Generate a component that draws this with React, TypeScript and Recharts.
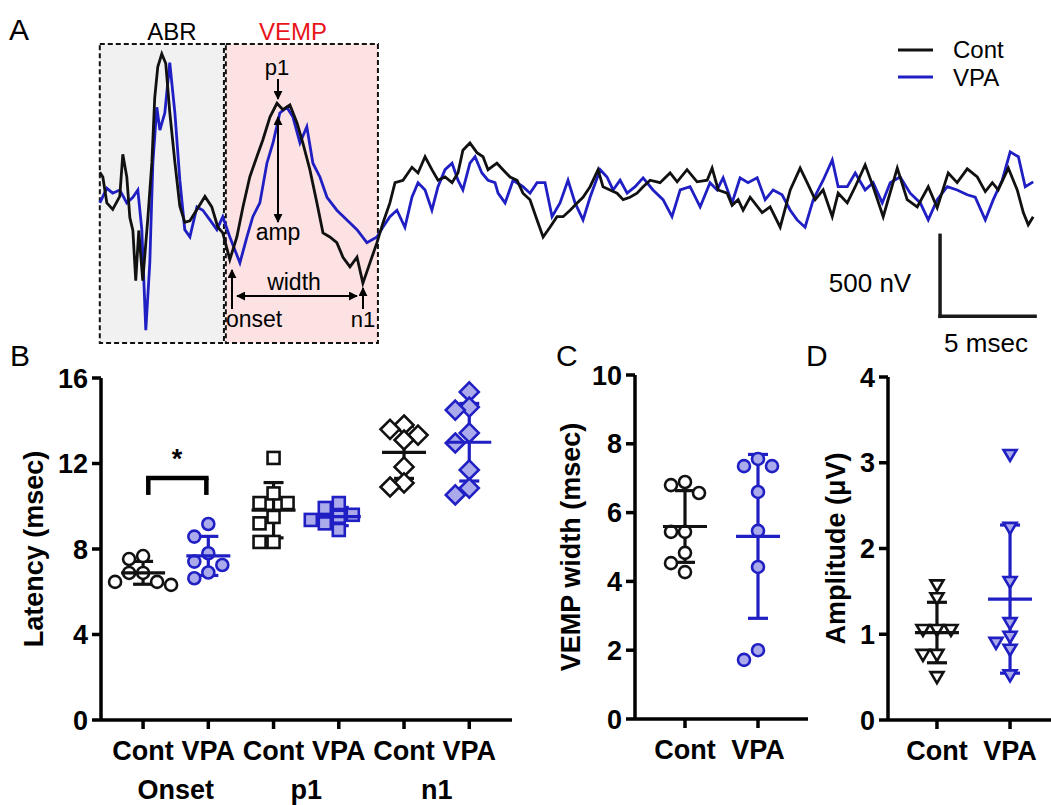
import React from "react";
import {
  LineChart,
  Line,
  XAxis,
  YAxis,
  ReferenceArea,
  ReferenceLine,
  ScatterChart,
  Scatter,
  ErrorBar,
} from "recharts";

const FONT = '"Liberation Sans", Arial, Helvetica, sans-serif';
const BLACK = "#111111";
const BLUE = "#1f1fc4";
const BLUE_FILL = "#ababec";

// ---- A: averaged traces, [time (msec), voltage (nV)]
const CONT_TRACE: [number, number][] = [
  [0, 110], [0.16, 80], [0.37, -80], [0.68, -120], [1.05, -40], [1.21, 220], [1.42, 80], [1.58, -170],
  [1.74, -250], [1.89, -560], [2.05, -250], [2.26, -560], [2.53, -170], [2.74, 170], [2.89, 570], [3.05, 760],
  [3.26, 840], [3.47, 780], [3.68, 480], [3.95, 170], [4.21, -100], [4.47, -200], [4.74, -190], [5.11, -120],
  [5.53, -40], [5.89, -105], [6.21, -230], [6.47, -265], [6.84, -430], [7.21, -290], [7.53, -105], [7.89, 80],
  [8.26, 205], [8.58, 310], [8.95, 450], [9.32, 535], [9.63, 495], [10.0, 525], [10.37, 415], [10.68, 290],
  [11.05, 125], [11.42, -80], [11.74, -265], [12.1, -290], [12.47, -325], [12.79, -415], [13.16, -475], [13.53, -415],
  [13.84, -575], [14.21, -450], [14.58, -325], [14.89, -205], [15.26, -80], [15.53, 45], [15.95, 60], [16.42, 140],
  [16.74, 105], [17.11, 205], [17.47, 125], [17.79, 60], [18.16, 80], [18.53, 45], [18.84, 105], [19.1, 245],
  [19.47, 290], [19.84, 230], [20.16, 205], [20.42, 125], [20.89, 165], [21.21, 125], [21.58, 80], [21.95, 60],
  [22.26, -20], [22.63, -60], [23.0, -185], [23.32, -290], [23.68, -230], [24.05, -165], [24.37, -165], [24.74, -125],
  [25.11, -80], [25.42, -45], [25.79, 20], [26.21, 125], [26.47, 20], [26.84, 0], [27.21, -20], [27.53, -60],
  [27.89, -45], [28.26, -20], [28.58, 20], [28.95, 60], [29.47, 45], [30.0, 105], [30.37, 50], [30.89, 125],
  [31.42, 50], [31.95, 60], [32.21, 135], [32.53, 0], [33.0, -20], [33.26, -95], [33.58, -60], [33.84, -125],
  [34.21, -45], [34.84, -140], [35.26, -105], [35.79, -230], [36.32, 0], [36.84, 135], [37.21, 45], [37.63, -60],
  [38.05, 0], [38.53, -165], [38.84, -20], [39.32, -80], [39.74, 20], [40.26, 155], [40.68, 20], [41.21, -165],
  [41.95, 135], [42.47, -60], [43.0, -105], [43.58, 20], [44.05, -110], [44.63, 105], [45.1, 45], [45.63, 130],
  [46.16, 80], [46.58, -10], [46.95, 45], [47.26, 0], [47.79, 135], [48.26, 0], [48.58, -140], [48.84, -215],
  [49.1, -165],
];

const VPA_TRACE: [number, number][] = [
  [0, -80], [0.37, 10], [0.68, -20], [1.05, 0], [1.42, -80], [1.74, -45], [2.0, 0], [2.21, -245],
  [2.42, -865], [2.63, -450], [2.79, 165], [3.0, 510], [3.16, 370], [3.42, 475], [3.68, 785], [3.95, 475],
  [4.21, 60], [4.47, -245], [4.74, -290], [5.11, -105], [5.42, -125], [5.79, -185], [6.16, -245], [6.47, -165],
  [6.84, -290], [7.37, -450], [7.74, -290], [8.05, -165], [8.42, -80], [8.79, 165], [9.11, 290], [9.47, 475],
  [9.84, 510], [10.16, 450], [10.53, 290], [10.89, 390], [11.21, 165], [11.58, 80], [11.95, -45], [12.47, -125],
  [13.0, -185], [13.53, -245], [14.05, -325], [14.58, -290], [14.89, -230], [15.26, -165], [15.63, -125], [16.05, -230],
  [16.42, -45], [16.74, 45], [17.11, 0], [17.47, -125], [17.79, 20], [18.16, 125], [18.53, 165], [18.84, 60],
  [19.1, 0], [19.47, 165], [19.74, 205], [20.1, 105], [20.42, 60], [20.79, 45], [20.95, -20], [21.32, -80],
  [21.74, 60], [22.26, 20], [22.63, -20], [23.0, 45], [23.42, 45], [23.79, -165], [24.21, -80], [24.63, 60],
  [25.0, -80], [25.42, -185], [25.79, -45], [26.32, 125], [26.68, 80], [27.0, 0], [27.37, 60], [27.74, -20],
  [28.16, 20], [28.58, 75], [29.1, 0], [29.63, -60], [30.1, -165], [30.53, 0], [31.05, 20], [31.58, -105],
  [32.1, 45], [32.47, 0], [32.79, 75], [33.26, -80], [33.68, 75], [34.1, 45], [34.58, 75], [35.0, -60],
  [35.42, 0], [35.89, -30], [36.32, -125], [36.68, -185], [37.1, -230], [37.53, -60], [38.05, 60], [38.53, 185],
  [38.84, 20], [39.32, 20], [39.74, 105], [40.26, 0], [40.68, 45], [41.16, -80], [41.58, 45], [42.1, 80],
  [42.63, -20], [43.16, -80], [43.58, -185], [44.05, -60], [44.58, 20], [45.1, 0], [45.63, -30], [46.05, -45],
  [46.58, -185], [47.0, -60], [47.47, 60], [47.89, 235], [48.32, 205], [48.68, 20], [49.1, 50],
];

// analysis windows (msec) and scale bar (5 msec / 500 nV)
const ABR_WINDOW: [number, number] = [0, 6.53];
const VEMP_WINDOW: [number, number] = [6.63, 14.63];
const WINDOW_RANGE: [number, number] = [-945, 900];
const SCALE_ORIGIN = { t: 44.2, v: -280 };
const SCALE_MS = 5;
const SCALE_NV = 500;

// ---- B: latencies (msec)
const ONSET_CONT = [7.67, 7.53, 6.88, 6.88, 6.46, 6.32, 6.46];
const ONSET_VPA = [9.17, 8.58, 7.8, 7.41, 7.25, 6.9, 6.63];
const P1_CONT = [12.26, 10.6, 10.15, 10.15, 9.5, 9.2, 8.33, 8.33];
const P1_VPA = [10.15, 9.92, 9.6, 9.51, 9.36, 9.2, 8.89];
const N1_CONT = [13.8, 13.6, 13.33, 13.1, 11.84, 11.09, 10.9];
const N1_VPA = [15.35, 14.64, 14.5, 13.43, 12.96, 11.7, 10.85, 10.53];
const B_TICKS = ["Cont", "VPA", "Cont", "VPA", "Cont", "VPA"];
const B_GROUPS = ["Onset", "p1", "n1"];

// ---- C: VEMP width (msec)
const WIDTH_CONT = [6.89, 6.8, 6.57, 5.44, 5.44, 4.83, 4.53, 4.27];
const WIDTH_VPA = [7.56, 7.35, 7.35, 6.6, 5.47, 4.42, 2.0, 1.72];

// ---- D: amplitude (uV)
const AMP_CONT = [1.57, 1.42, 1.05, 1.05, 1.05, 0.76, 0.76, 0.5];
const AMP_VPA = [3.09, 2.24, 1.61, 1.13, 0.97, 0.9, 0.82, 0.52];
const CD_TICKS = ["Cont", "VPA"];

type Kind = "circle" | "square" | "diamond" | "triangle";
type Group = { values: number[]; pos: number; kind: Kind; vpa: boolean };

const mean = (a: number[]) => a.reduce((s, v) => s + v, 0) / a.length;
const sd = (a: number[]) => {
  const m = mean(a);
  return Math.sqrt(a.reduce((s, v) => s + (v - m) ** 2, 0) / (a.length - 1));
};

// simple beeswarm: spread points sideways so markers don't pile up
function swarm(values: number[], pxX: number, pxY: number, diam: number, step: number) {
  const placed: { x: number; y: number }[] = [];
  const offsets = new Array(values.length).fill(0);
  const order = values.map((_, i) => i).sort((a, b) => values[b] - values[a]);
  for (const i of order) {
    const py = values[i] * pxY;
    for (let k = 0; k < 30; k++) {
      const cand = k === 0 ? 0 : (k % 2 ? -1 : 1) * Math.ceil(k / 2) * step;
      if (placed.every((p) => Math.hypot(p.x - cand, p.y - py) >= diam)) {
        placed.push({ x: cand, y: py });
        offsets[i] = cand / pxX;
        break;
      }
    }
  }
  return offsets;
}

function Marker({ cx, cy, kind, vpa }: { cx: number; cy: number; kind: Kind; vpa: boolean }) {
  const p = { stroke: vpa ? BLUE : BLACK, fill: vpa ? BLUE_FILL : "#fff", strokeWidth: 2.6 };
  if (kind === "circle") return <circle cx={cx} cy={cy} r={6} {...p} />;
  if (kind === "square") return <rect x={cx - 6} y={cy - 6} width={12} height={12} {...p} />;
  if (kind === "diamond")
    return <polygon points={`${cx},${cy - 9.5} ${cx + 9.5},${cy} ${cx},${cy + 9.5} ${cx - 9.5},${cy}`} {...p} />;
  return <polygon points={`${cx - 6.5},${cy - 5} ${cx + 6.5},${cy - 5} ${cx},${cy + 6}`} {...p} />;
}

const tickFont = { fontFamily: FONT, fontSize: 27, fontWeight: 700, fill: "#000" };
const axisStroke = { stroke: "#000", strokeWidth: 3.5 };

type PanelProps = {
  left: number;
  top: number;
  width: number;
  height: number;
  margin: { top: number; right: number; bottom: number; left: number };
  yAxisWidth: number;
  groupAxisHeight?: number;
  xDomain: [number, number];
  yDomain: [number, number];
  yTicks: number[];
  tickLabels: string[];
  groupLabels?: string[];
  groups: Group[];
  yLabel: string;
  yLabelOffset: number;
  diam: number;
  extra?: React.ReactNode;
};

function DotPanel(props: PanelProps) {
  const { margin, yAxisWidth, xDomain, yDomain, groups } = props;
  const xAxisHeight = 40;
  const plotW = props.width - margin.left - margin.right - yAxisWidth;
  const plotH = props.height - margin.top - margin.bottom - xAxisHeight - (props.groupAxisHeight ?? 0);
  const pxX = plotW / (xDomain[1] - xDomain[0]);
  const pxY = plotH / (yDomain[1] - yDomain[0]);

  return (
    <div style={{ position: "absolute", left: props.left, top: props.top }}>
      <ScatterChart width={props.width} height={props.height} margin={margin}>
        <XAxis
          type="number"
          dataKey="x"
          domain={xDomain}
          ticks={groups.map((g) => g.pos)}
          tickFormatter={(v: number) => props.tickLabels[Math.round(v)]}
          axisLine={axisStroke}
          tickLine={axisStroke}
          tickSize={9}
          tickMargin={12}
          height={xAxisHeight}
          tick={tickFont}
          interval={0}
          allowDataOverflow
        />
        {props.groupLabels && (
          <XAxis
            xAxisId="grp"
            type="number"
            dataKey="x"
            domain={xDomain}
            ticks={props.groupLabels.map((_, i) => 2 * i + 0.5)}
            tickFormatter={(v: number) => props.groupLabels![Math.round((v - 0.5) / 2)]}
            axisLine={false}
            tickLine={false}
            tickSize={0}
            tickMargin={20}
            height={props.groupAxisHeight}
            tick={tickFont}
            interval={0}
            allowDataOverflow
          />
        )}
        <YAxis
          type="number"
          dataKey="y"
          domain={yDomain}
          ticks={props.yTicks}
          width={yAxisWidth}
          axisLine={axisStroke}
          tickLine={axisStroke}
          tickSize={9}
          tickMargin={4}
          tick={tickFont}
          interval={0}
          allowDataOverflow
          label={{
            value: props.yLabel,
            angle: -90,
            position: "insideLeft",
            offset: props.yLabelOffset,
            style: { textAnchor: "middle", fontFamily: FONT, fontSize: 27, fontWeight: 700, fill: "#000" },
          }}
        />
        {props.extra}
        {groups.map((g, gi) => {
          const offs = swarm(g.values, pxX, pxY, props.diam, 14);
          const data = g.values.map((v, i) => ({ x: g.pos + offs[i], y: v }));
          return (
            <Scatter
              key={`pts-${gi}`}
              data={data}
              isAnimationActive={false}
              shape={(p: any) => <Marker cx={p.cx} cy={p.cy} kind={g.kind} vpa={g.vpa} />}
            />
          );
        })}
        {groups.map((g, gi) => {
          const color = g.vpa ? BLUE : BLACK;
          return (
            <Scatter
              key={`mean-${gi}`}
              data={[{ x: g.pos, y: mean(g.values), sd: sd(g.values) }]}
              isAnimationActive={false}
              shape={(p: any) => (
                <line x1={p.cx - 22} x2={p.cx + 22} y1={p.cy} y2={p.cy} stroke={color} strokeWidth={3.2} />
              )}
            >
              <ErrorBar dataKey="sd" direction="y" width={10} stroke={color} strokeWidth={3.2} />
            </Scatter>
          );
        })}
      </ScatterChart>
    </div>
  );
}

function TracePanel() {
  const cont = CONT_TRACE.map(([t, v]) => ({ t, v }));
  const vpa = VPA_TRACE.map(([t, v]) => ({ t, v }));
  const bar = "#1a1a1a";
  return (
    <div style={{ position: "absolute", left: 0, top: 0 }}>
      <LineChart width={1051} height={360} margin={{ top: 36, right: 14, bottom: 8, left: 96 }}>
        <XAxis type="number" dataKey="t" domain={[-0.2, 49.3]} hide allowDataOverflow />
        <YAxis type="number" dataKey="v" domain={[-1000, 950]} hide allowDataOverflow />
        <ReferenceArea
          x1={ABR_WINDOW[0]}
          x2={ABR_WINDOW[1]}
          y1={WINDOW_RANGE[0]}
          y2={WINDOW_RANGE[1]}
          fill="#f1f1f1"
          fillOpacity={1}
          stroke="#111"
          strokeWidth={2}
          strokeDasharray="5 3"
        />
        <ReferenceArea
          x1={VEMP_WINDOW[0]}
          x2={VEMP_WINDOW[1]}
          y1={WINDOW_RANGE[0]}
          y2={WINDOW_RANGE[1]}
          fill="#fce2e2"
          fillOpacity={1}
          stroke="#111"
          strokeWidth={2}
          strokeDasharray="5 3"
        />
        <Line data={vpa} dataKey="v" type="linear" stroke={BLUE} strokeWidth={2.8} dot={false} isAnimationActive={false} />
        <Line data={cont} dataKey="v" type="linear" stroke={BLACK} strokeWidth={2.8} dot={false} isAnimationActive={false} />
        <ReferenceLine
          segment={[
            { x: SCALE_ORIGIN.t, y: SCALE_ORIGIN.v },
            { x: SCALE_ORIGIN.t, y: SCALE_ORIGIN.v - SCALE_NV },
          ]}
          stroke={bar}
          strokeWidth={3.5}
          strokeLinecap="square"
          ifOverflow="visible"
        />
        <ReferenceLine
          segment={[
            { x: SCALE_ORIGIN.t, y: SCALE_ORIGIN.v - SCALE_NV },
            { x: SCALE_ORIGIN.t + SCALE_MS, y: SCALE_ORIGIN.v - SCALE_NV },
          ]}
          stroke={bar}
          strokeWidth={3.5}
          strokeLinecap="square"
          ifOverflow="visible"
        />
      </LineChart>
    </div>
  );
}

function Annotations() {
  const t = { fontFamily: FONT, fill: "#000" } as const;
  const arrow = { stroke: "#000", strokeWidth: 2 };
  return (
    <svg width={1051} height={805} style={{ position: "absolute", left: 0, top: 0, pointerEvents: "none" }}>
      <defs>
        <marker id="ah" viewBox="0 0 10 10" refX="9" refY="5" markerWidth="9" markerHeight="9" markerUnits="userSpaceOnUse" orient="auto-start-reverse">
          <path d="M0,0 L10,5 L0,10 z" fill="#000" />
        </marker>
      </defs>
      {/* panel letters */}
      <text x={9} y={40} fontSize={30} {...t}>A</text>
      <text x={10} y={366} fontSize={30} {...t}>B</text>
      <text x={556} y={366} fontSize={30} {...t}>C</text>
      <text x={806} y={366} fontSize={30} {...t}>D</text>

      {/* A annotations */}
      <text x={172} y={40} fontSize={24} textAnchor="middle" {...t}>ABR</text>
      <text x={293} y={40} fontSize={24} textAnchor="middle" {...t} fill="#e8141b">VEMP</text>
      <text x={277} y={75} fontSize={22} textAnchor="middle" {...t}>p1</text>
      <line x1={278} y1={79} x2={278} y2={99} {...arrow} markerEnd="url(#ah)" />
      <line x1={278} y1={117} x2={278} y2={222} {...arrow} markerStart="url(#ah)" markerEnd="url(#ah)" />
      <text x={278} y={240} fontSize={23} textAnchor="middle" {...t}>amp</text>
      <line x1={232} y1={309} x2={232} y2={270} {...arrow} markerEnd="url(#ah)" />
      <text x={226} y={327} fontSize={23} {...t}>onset</text>
      <line x1={237} y1={296} x2={357} y2={296} {...arrow} markerStart="url(#ah)" markerEnd="url(#ah)" />
      <text x={294} y={290} fontSize={23} textAnchor="middle" {...t}>width</text>
      <line x1={363} y1={309} x2={363} y2={288} {...arrow} markerEnd="url(#ah)" />
      <text x={363} y={327} fontSize={22} textAnchor="middle" {...t}>n1</text>

      {/* legend */}
      <line x1={898} y1={50} x2={933} y2={50} stroke={BLACK} strokeWidth={3} />
      <text x={953} y={58} fontSize={24} {...t}>Cont</text>
      <line x1={898} y1={77} x2={933} y2={77} stroke={BLUE} strokeWidth={3} />
      <text x={953} y={86} fontSize={24} {...t}>VPA</text>

      {/* scale bar labels */}
      <text x={870} y={292} fontSize={26} textAnchor="middle" {...t}>500 nV</text>
      <text x={986} y={352} fontSize={26} textAnchor="middle" {...t}>5 msec</text>

      {/* significance */}
      <text x={177} y={468} fontSize={27} fontWeight={700} textAnchor="middle" {...t}>*</text>
    </svg>
  );
}

export default function App() {
  const groupsB: Group[] = [
    { values: ONSET_CONT, pos: 0, kind: "circle", vpa: false },
    { values: ONSET_VPA, pos: 1, kind: "circle", vpa: true },
    { values: P1_CONT, pos: 2, kind: "square", vpa: false },
    { values: P1_VPA, pos: 3, kind: "square", vpa: true },
    { values: N1_CONT, pos: 4, kind: "diamond", vpa: false },
    { values: N1_VPA, pos: 5, kind: "diamond", vpa: true },
  ];
  const groupsC: Group[] = [
    { values: WIDTH_CONT, pos: 0, kind: "circle", vpa: false },
    { values: WIDTH_VPA, pos: 1, kind: "circle", vpa: true },
  ];
  const groupsD: Group[] = [
    { values: AMP_CONT, pos: 0, kind: "triangle", vpa: false },
    { values: AMP_VPA, pos: 1, kind: "triangle", vpa: true },
  ];

  const bracket = { stroke: "#000", strokeWidth: 4.5, ifOverflow: "visible" as const };
  const bracketB = (
    <>
      <ReferenceLine segment={[{ x: 0.08, y: 10.53 }, { x: 0.08, y: 11.32 }]} {...bracket} />
      <ReferenceLine segment={[{ x: 0.08, y: 11.32 }, { x: 0.97, y: 11.32 }]} {...bracket} strokeLinecap="square" />
      <ReferenceLine segment={[{ x: 0.97, y: 11.32 }, { x: 0.97, y: 10.53 }]} {...bracket} />
    </>
  );

  return (
    <div
      style={{
        position: "absolute",
        left: 0,
        top: 0,
        width: 1051,
        height: 805,
        overflow: "hidden",
        background: "#fff",
        fontFamily: FONT,
      }}
    >
      <TracePanel />
      <DotPanel
        left={0}
        top={360}
        width={520}
        height={445}
        margin={{ top: 18, right: 8, bottom: 0, left: 0 }}
        yAxisWidth={101}
        groupAxisHeight={45}
        xDomain={[-0.645, 5.655]}
        yDomain={[0, 16]}
        yTicks={[0, 4, 8, 12, 16]}
        tickLabels={B_TICKS}
        groupLabels={B_GROUPS}
        groups={groupsB}
        yLabel="Latency (msec)"
        yLabelOffset={33}
        diam={13}
        extra={bracketB}
      />
      <DotPanel
        left={540}
        top={360}
        width={270}
        height={445}
        margin={{ top: 15, right: 2, bottom: 46, left: 0 }}
        yAxisWidth={95}
        xDomain={[-0.685, 1.685]}
        yDomain={[0, 10]}
        yTicks={[0, 2, 4, 6, 8, 10]}
        tickLabels={CD_TICKS}
        groups={groupsC}
        yLabel="VEMP width (msec)"
        yLabelOffset={30}
        diam={13}
      />
      <DotPanel
        left={790}
        top={360}
        width={269}
        height={445}
        margin={{ top: 17, right: 0, bottom: 45, left: 0 }}
        yAxisWidth={98}
        xDomain={[-0.67, 1.67]}
        yDomain={[0, 4]}
        yTicks={[0, 1, 2, 3, 4]}
        tickLabels={CD_TICKS}
        groups={groupsD}
        yLabel="Amplitude (μV)"
        yLabelOffset={45}
        diam={12}
      />
      <Annotations />
    </div>
  );
}
